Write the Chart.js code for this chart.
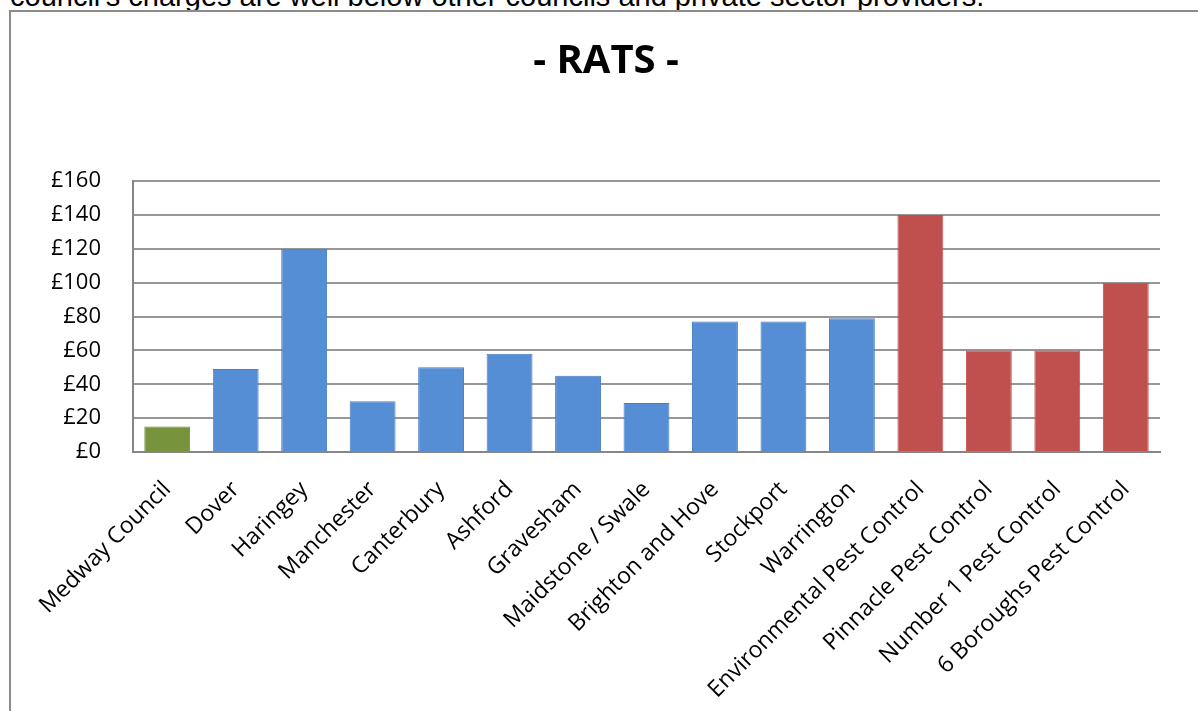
<!DOCTYPE html>
<html>
<head>
<meta charset="utf-8">
<script src="https://cdn.jsdelivr.net/npm/chart.js@4"></script>
<style>
  html, body { margin: 0; padding: 0; background: #fff; overflow: hidden; }
  body { width: 1198px; height: 711px; position: relative; }
  .lead {
    position: absolute; left: 10px; top: -20px; white-space: nowrap; line-height: 29px;
    font: 29px "Liberation Sans", Arial, sans-serif; color: #000;
  }
  .frame {
    position: absolute; left: 9px; top: 10px; width: 1300px; height: 800px;
    border: 2px solid #8c8c8c; box-sizing: border-box;
  }
  .chart-box { position: absolute; left: 0; top: 0; width: 1198px; height: 711px; }
</style>
</head>
<body>
<div class="lead">council's charges are well below other councils and private sector providers.</div>
<div class="frame"></div>
<div class="chart-box"><canvas id="rats"></canvas></div>
<script>
const categories = [
  'Medway Council', 'Dover', 'Haringey', 'Manchester', 'Canterbury', 'Ashford',
  'Gravesham', 'Maidstone / Swale', 'Brighton and Hove', 'Stockport', 'Warrington',
  'Environmental Pest Control', 'Pinnacle Pest Control', 'Number 1 Pest Control',
  '6 Boroughs Pest Control'
];
const charges = [15, 49, 120, 30, 50, 58, 45, 29, 77, 77, 79, 140, 60, 60, 100];
const groups = ['medway', 'council', 'council', 'council', 'council', 'council',
  'council', 'council', 'council', 'council', 'council',
  'private', 'private', 'private', 'private'];
const yTicks = [0, 20, 40, 60, 80, 100, 120, 140, 160];

const fills = { medway: '#77933c', council: '#558ed5', private: '#c0504d' };
const edges = { medway: '#6f8a37', council: '#4a7ebd', private: '#c0504d' };

new Chart(document.getElementById('rats'), {
  type: 'bar',
  data: {
    labels: categories,
    datasets: [{
      data: charges,
      backgroundColor: groups.map((g) => fills[g]),
      borderColor: groups.map((g) => edges[g]),
      borderWidth: 1,
      barPercentage: 0.67,
      categoryPercentage: 1,
    }],
  },
  options: {
    responsive: true,
    maintainAspectRatio: false,
    animation: false,
    layout: { padding: { top: 30, right: 38, left: 52, bottom: 0 } },
    plugins: {
      legend: { display: false },
      tooltip: { enabled: false },
      title: {
        display: true,
        text: '- RATS -',
        color: '#000',
        font: { family: 'Open Sans, Liberation Sans, sans-serif', size: 40, weight: 'bold' },
        padding: { top: 8, bottom: 95 },
      },
    },
    scales: {
      x: {
        grid: { display: false, drawTicks: false },
        border: { color: '#868686', width: 2 },
        ticks: {
          color: '#000',
          font: { family: 'Open Sans, sans-serif', size: 23 },
          minRotation: 45,
          maxRotation: 45,
          padding: 24,
          autoSkip: false,
        },
        afterFit: (scale) => { scale.height = 259; },
      },
      y: {
        min: 0,
        max: 160,
        afterBuildTicks: (scale) => { scale.ticks = yTicks.map((v) => ({ value: v })); },
        grid: { color: '#979797', lineWidth: 2, drawTicks: false },
        border: { color: '#868686', width: 2 },
        ticks: {
          color: '#000',
          font: { family: 'Open Sans, sans-serif', size: 22 },
          padding: 32,
          callback: (v) => '£' + v,
        },
        afterFit: (scale) => { scale.width = 81; },
      },
    },
  },
});
</script>
</body>
</html>
